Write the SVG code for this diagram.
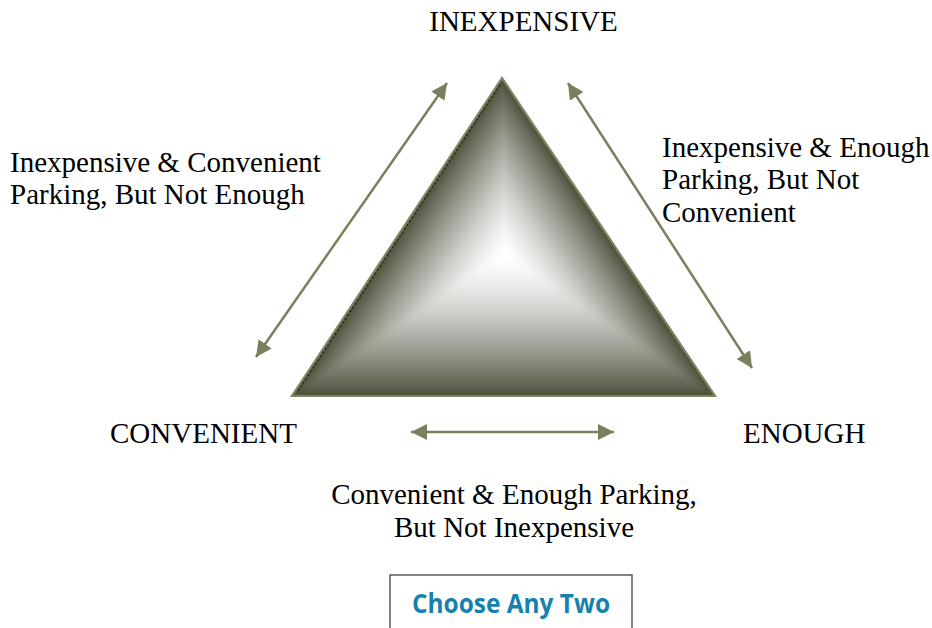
<svg xmlns="http://www.w3.org/2000/svg" width="932" height="628" viewBox="0 0 932 628">
<style>
.t{font-family:"Liberation Serif","Times New Roman",serif;font-size:29px;fill:#000}
.c{stroke:#7b7f5d;stroke-width:2.5;fill:none;marker-start:url(#ah);marker-end:url(#ah)}
.box{fill:#fff;stroke:#404040;stroke-width:1.3}
.btn{font-family:"Open Sans","Noto Sans",sans-serif;font-weight:bold;font-size:26px;fill:#1581ae}
</style>
<defs>
<marker id="ah" markerUnits="userSpaceOnUse" markerWidth="17" markerHeight="16" refX="16" refY="8" orient="auto-start-reverse">
<path d="M0,0 L16,8 L0,16 z" fill="#7b7f5d"/>
</marker>
<clipPath id="tri"><polygon points="502,78 292,396 715,396"/></clipPath>
<filter id="soft" x="-10%" y="-10%" width="120%" height="120%"><feGaussianBlur stdDeviation="2"/></filter>
</defs>
<rect width="932" height="628" fill="#fff"/>

<g id="triangle">
<g clip-path="url(#tri)">
<g filter="url(#soft)">
<polygon points="501.7,60.3 270.7,410.1 736,410.1" fill="#4e533e"/>
<polygon points="502.1,85.1 300.5,390.4 706.6,390.4" fill="#5d614e"/>
<polygon points="502.2,92.2 309,384.7 698.2,384.7" fill="#666b58"/>
<polygon points="502.4,99.2 317.6,379.1 689.8,379.1" fill="#707463"/>
<polygon points="502.5,106.3 326.1,373.4 681.4,373.4" fill="#797d6d"/>
<polygon points="502.6,113.4 334.6,367.8 673,367.8" fill="#828677"/>
<polygon points="502.7,120.5 343.1,362.2 664.6,362.2" fill="#8b8e80"/>
<polygon points="502.8,127.6 351.6,356.5 656.2,356.5" fill="#94978a"/>
<polygon points="503,134.6 360.2,350.9 647.8,350.9" fill="#9c9f93"/>
<polygon points="503.1,141.7 368.7,345.2 639.4,345.2" fill="#a4a79c"/>
<polygon points="503.2,148.8 377.2,339.6 631,339.6" fill="#acafa5"/>
<polygon points="503.3,155.9 385.7,334 622.6,334" fill="#b4b6ae"/>
<polygon points="503.4,163 394.2,328.3 614.2,328.3" fill="#bcbeb6"/>
<polygon points="503.6,170 402.8,322.7 605.8,322.7" fill="#c3c5be"/>
<polygon points="503.7,177.1 411.3,317 597.4,317" fill="#caccc6"/>
<polygon points="503.8,184.2 419.8,311.4 589,311.4" fill="#d1d3cd"/>
<polygon points="503.9,191.3 428.3,305.8 580.6,305.8" fill="#d8d9d4"/>
<polygon points="504,198.4 436.8,300.1 572.2,300.1" fill="#dedfdb"/>
<polygon points="504.2,205.4 445.4,294.5 563.8,294.5" fill="#e4e5e2"/>
<polygon points="504.3,212.5 453.9,288.8 555.4,288.8" fill="#eaeae8"/>
<polygon points="504.4,219.6 462.4,283.2 547,283.2" fill="#efefed"/>
<polygon points="504.5,226.7 470.9,277.6 538.6,277.6" fill="#f4f4f3"/>
<polygon points="504.6,233.8 479.4,271.9 530.2,271.9" fill="#f8f8f7"/>
<polygon points="504.8,240.8 488,266.3 521.8,266.3" fill="#fcfcfb"/>
<polygon points="504.9,247.9 496.5,260.6 513.4,260.6" fill="#ffffff"/>
</g>
</g>
<line x1="499.7" y1="85.1" x2="296.3" y2="393.1" stroke="#111" stroke-width="1.2" stroke-dasharray="2 2.5" opacity="0.85"/>
<polygon points="502,78 292,396 715,396" fill="none" stroke="#7f835f" stroke-width="2.2" stroke-linejoin="miter"/>
</g>

<g id="connectors">
<line class="c" x1="256" y1="357" x2="447" y2="83"/>
<line class="c" x1="568" y1="83" x2="752" y2="368"/>
<line class="c" x1="411" y1="432" x2="614" y2="432"/>
</g>

<g id="label-inexpensive"><text class="t" x="523.5" y="31" text-anchor="middle">INEXPENSIVE</text></g>
<g id="label-convenient"><text class="t" x="110" y="443">CONVENIENT</text></g>
<g id="label-enough"><text class="t" x="743" y="443">ENOUGH</text></g>
<g id="label-left">
<text class="t" x="10" y="172">Inexpensive &amp; Convenient</text>
<text class="t" x="10" y="204">Parking, But Not Enough</text>
</g>
<g id="label-right">
<text class="t" x="662" y="157">Inexpensive &amp; Enough</text>
<text class="t" x="662" y="189">Parking, But Not</text>
<text class="t" x="662" y="222">Convenient</text>
</g>
<g id="label-bottom">
<text class="t" x="514" y="504" text-anchor="middle">Convenient &amp; Enough Parking,</text>
<text class="t" x="514" y="537" text-anchor="middle">But Not Inexpensive</text>
</g>
<g id="choose-box">
<rect class="box" x="390" y="575" width="242" height="60"/>
<text class="btn" x="412" y="613" textLength="198" lengthAdjust="spacingAndGlyphs">Choose Any Two</text>
</g>
</svg>
